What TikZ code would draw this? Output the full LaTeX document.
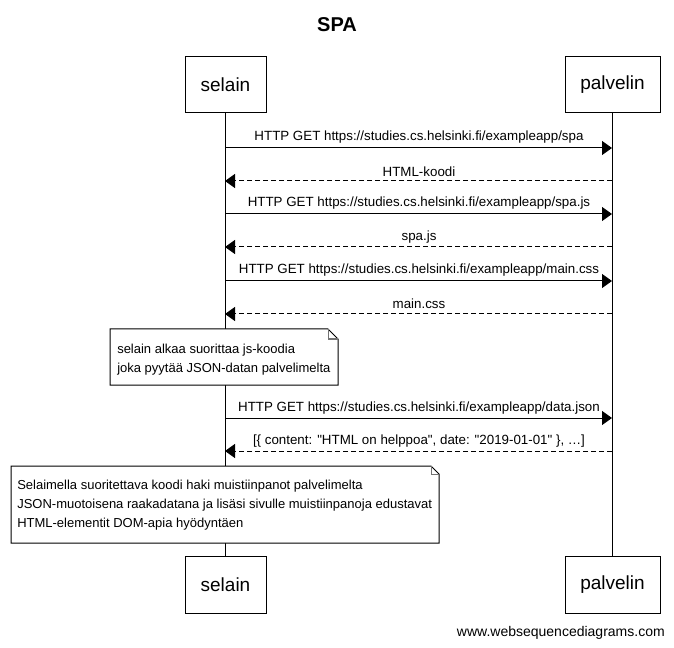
\documentclass[tikz,border=0pt]{standalone}
\usepackage{fontspec}
\setmainfont{Liberation Sans}[Ligatures=TeXOff]
\usetikzlibrary{arrows.meta}
\begin{document}
\begin{tikzpicture}[x=0.75pt,y=-0.75pt,
  actorbox/.style={draw,line width=0.75pt,fill=white,inner sep=0pt,
    font=\fontsize{14.25}{17}\selectfont},
  lifeline/.style={line width=0.75pt},
  msg/.style={line width=0.75pt,-{Triangle[length=7.5pt,width=10.5pt]}},
  reply/.style={msg,dash pattern=on 3.75pt off 2.25pt},
  msglabel/.style={inner sep=0pt,font=\fontsize{10}{12}\selectfont},
  notebox/.style={draw,line width=0.75pt,fill=white},
  notefold/.style={draw=black!55,line width=0.75pt},
  notetext/.style={inner sep=0pt,anchor=west,align=left,
    font=\fontsize{9.75}{14.25}\selectfont}]
\useasboundingbox (0,0) rectangle (674,648);
\fill[white] (0,0) rectangle (674,648);

% title
\node[font=\fontsize{15}{18}\selectfont\bfseries] (title) at (337,25) {SPA};

% participants
\node[actorbox,minimum width=60.75pt,minimum height=42pt] (selTop) at (225.5,85) {selain};
\node[actorbox,minimum width=71.25pt,minimum height=42pt] (palTop) at (612.5,85) {palvelin};
\node[actorbox,minimum width=60.75pt,minimum height=42.75pt] (selBot) at (225.5,584.5) {selain};
\node[actorbox,minimum width=71.25pt,minimum height=42.75pt] (palBot) at (612.5,584.5) {palvelin};

% lifelines
\coordinate (sA) at (225,113); \coordinate (sB) at (225,556);
\coordinate (pA) at (612,113); \coordinate (pB) at (612,556);
\draw[lifeline] (sA) -- (sB);
\draw[lifeline] (pA) -- (pB);

% message anchors on the lifelines
\foreach \n/\y in {1/148,2/181,3/214,4/247,5/281,6/314,7/418,8/451}{
  \coordinate (s\n) at (225,\y);
  \coordinate (p\n) at (612,\y);
}

\draw[msg]   (s1) -- (p1);
\node[msglabel] (m1) at (419,137.5) {HTTP GET https://studies.cs.helsinki.fi/exampleapp/spa};
\draw[reply] (p2) -- (s2);
\node[msglabel] (m2) at (419,171.5) {HTML-koodi};
\draw[msg]   (s3) -- (p3);
\node[msglabel] (m3) at (419,203.5) {HTTP GET https://studies.cs.helsinki.fi/exampleapp/spa.js};
\draw[reply] (p4) -- (s4);
\node[msglabel] (m4) at (419,237) {spa.js};
\draw[msg]   (s5) -- (p5);
\node[msglabel] (m5) at (419,270.5) {HTTP GET https://studies.cs.helsinki.fi/exampleapp/main.css};
\draw[reply] (p6) -- (s6);
\node[msglabel] (m6) at (419,303.5) {main.css};

% first note
\path[notebox] (110,329) -- (328,329) -- (338,339) -- (338,385) -- (110,385) -- cycle;
\draw[notefold] (328,329) -- (328,339) -- (338,339);
\node[notetext] (n1) at (117,359.5) {selain alkaa suorittaa js-koodia\\joka pyytää JSON-datan palvelimelta};

\draw[msg]   (s7) -- (p7);
\node[msglabel] (m7) at (419,408.5) {HTTP GET https://studies.cs.helsinki.fi/exampleapp/data.json};
\draw[reply] (p8) -- (s8);
\node[msglabel] (m8) at (419,441) {[\{ content: "HTML on helppoa", date: "2019-01-01" \}, …]};

% second note
\path[notebox] (11,466) -- (431,466) -- (439,474) -- (439,543) -- (11,543) -- cycle;
\draw[notefold] (431,466) -- (431,474) -- (439,474);
\node[notetext] (n2) at (17,505) {Selaimella suoritettava koodi haki muistiinpanot palvelimelta\\JSON-muotoisena raakadatana ja lisäsi sivulle muistiinpanoja edustavat\\HTML-elementit DOM-apia hyödyntäen};

% footer
\node[inner sep=0pt,anchor=east,font=\fontsize{10.5}{12}\selectfont] (wm) at (665,633) {www.websequencediagrams.com};
\end{tikzpicture}
\end{document}
